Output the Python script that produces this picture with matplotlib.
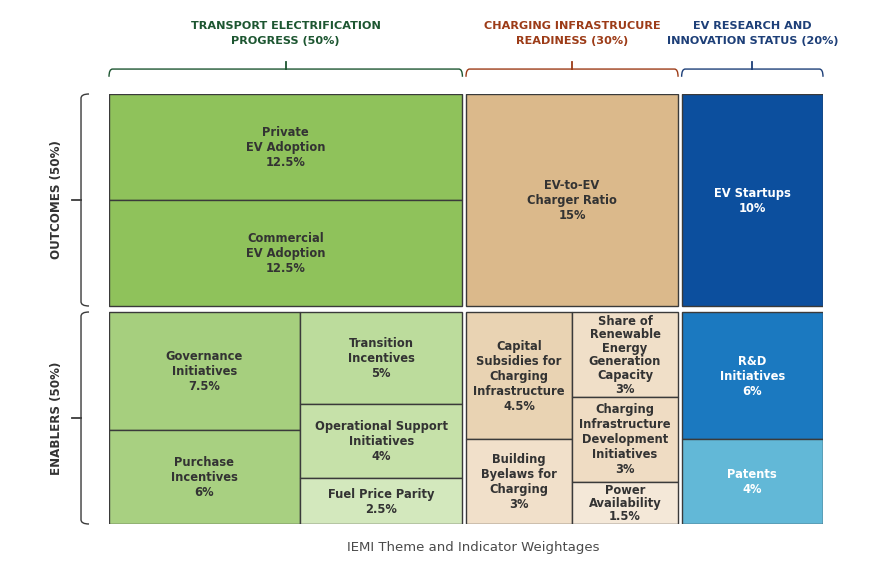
import matplotlib.pyplot as plt
from matplotlib.patches import Rectangle, PathPatch
from matplotlib.path import Path
from matplotlib.transforms import offset_copy
import numpy as np

plt.rcParams['font.family'] = ['DejaVu Sans']

# ---------------- data ----------------
themes = ["TRANSPORT ELECTRIFICATION\nPROGRESS (50%)",
          "CHARGING INFRASTRUCURE\nREADINESS (30%)",
          "EV RESEARCH AND\nINNOVATION STATUS (20%)"]
theme_weights = [50, 30, 20]

pillars = ["OUTCOMES (50%)", "ENABLERS (50%)"]
pillar_weights = [50, 50]

# each block = list of columns, each column = stacked indicators
transport_outcomes = [["Private\nEV Adoption", "Commercial\nEV Adoption"]]
transport_outcome_weights = [[12.5, 12.5]]
transport_enablers = [["Governance\nInitiatives", "Purchase\nIncentives"],
                      ["Transition\nIncentives", "Operational Support\nInitiatives", "Fuel Price Parity"]]
transport_enabler_weights = [[7.5, 6], [5, 4, 2.5]]

charging_outcomes = [["EV-to-EV\nCharger Ratio"]]
charging_outcome_weights = [[15]]
charging_enablers = [["Capital\nSubsidies for\nCharging\nInfrastructure", "Building\nByelaws for\nCharging"],
                     ["Share of\nRenewable\nEnergy\nGeneration\nCapacity",
                      "Charging\nInfrastructure\nDevelopment\nInitiatives",
                      "Power\nAvailability"]]
charging_enabler_weights = [[4.5, 3], [3, 3, 1.5]]

research_outcomes = [["EV Startups"]]
research_outcome_weights = [[10]]
research_enablers = [["R&D\nInitiatives", "Patents"]]
research_enabler_weights = [[6, 4]]

# ---------------- styles ----------------
theme_colors = ['#1d5631', '#9c3b17', '#1d3f78']
block_colors = {
    (0, 0): [['#8fc25b', '#8fc25b']],
    (0, 1): [['#a6cf7e', '#a8d081'], ['#bcdc9c', '#c6e1a9', '#d3e8bd']],
    (1, 0): [['#dbb98b']],
    (1, 1): [['#e9d3b3', '#f1e0ca'], ['#f0dfc8', '#efdcc3', '#f4e8d8']],
    (2, 0): [['#0c4f9e']],
    (2, 1): [['#1b79c0', '#62b8d7']],
}
text_dark = '#333333'
edge = '#3a3a3a'

blocks = {
    (0, 0): (transport_outcomes, transport_outcome_weights),
    (0, 1): (transport_enablers, transport_enabler_weights),
    (1, 0): (charging_outcomes, charging_outcome_weights),
    (1, 1): (charging_enablers, charging_enabler_weights),
    (2, 0): (research_outcomes, research_outcome_weights),
    (2, 1): (research_enablers, research_enabler_weights),
}

DPI = 100
fig = plt.figure(figsize=(8.69, 5.64), dpi=DPI)
ax = fig.add_axes([109/869, 1-524/564, 714/869, 430/564])
ax.set_xlim(0, sum(theme_weights))
ax.set_ylim(sum(pillar_weights), 0)
ax.axis('off')

gx, gy = 0.5, 1.4   # gaps between themes / pillars
px_per_y = 430 / sum(pillar_weights)
pitch = 15.0         # line pitch in pixels


def spans(weights, g):
    total = sum(weights)
    avail = total - g * (len(weights) - 1)
    out, a = [], 0
    for w in weights:
        b = a + avail * w / total
        out.append((a, b))
        a = b + g
    return out


def stacked_text(x, y, text, transform, fs, step, clip=None, **kw):
    # one Text per line so the pitch is exact in pixels
    lines = text.split("\n")
    n = len(lines)
    cap = 0.73 * fs * DPI / 72
    out = []
    for i, s in enumerate(lines):
        dy = ((n - 1) / 2 - i) * step - cap / 2
        tr = offset_copy(transform, fig=fig, x=0, y=dy, units='dots')
        t = ax.text(x, y, s, transform=tr, ha='center', va='baseline', fontsize=fs, **kw)
        if clip is not None:
            t.set_clip_on(True)
            t.set_clip_path(clip)
        out.append(t)
    return out


tspans = spans(theme_weights, gx)
pspans = spans(pillar_weights, gy)

fs = 8.3
for (ti, pi), (cols, wts) in blocks.items():
    x0, x1 = tspans[ti]
    y0, y1 = pspans[pi]
    col_tot = [sum(w) for w in wts]
    cx = x0
    for ci, (names, ws) in enumerate(zip(cols, wts)):
        cw = (x1 - x0) * col_tot[ci] / sum(col_tot)
        cy = y0
        for ri, (name, w) in enumerate(zip(names, ws)):
            ch = (y1 - y0) * w / col_tot[ci]
            fc = block_colors[(ti, pi)][ci][ri]
            rect = Rectangle((cx, cy), cw, ch, facecolor=fc, edgecolor=edge, lw=1.0)
            ax.add_patch(rect)
            label = f"{name}\n{w:g}%"
            nlines = label.count("\n") + 1
            room = ch * px_per_y - 3
            step = min(pitch, room / nlines)
            tc = 'white' if ti == 2 else text_dark
            stacked_text(cx + cw/2, cy + ch/2, label, ax.transData, fs, step, clip=rect,
                         fontweight='bold', color=tc)
            cy += ch
        cx += cw

# top brackets + theme titles
trans_top = ax.get_xaxis_transform()
yb, yl, yt = 1.040, 1.058, 1.074
rx = 0.5
for ti, name in enumerate(themes):
    x0, x1 = tspans[ti]
    xm = (x0 + x1) / 2
    verts = [(x0, yb), (x0, yl), (x0 + rx, yl), (x1 - rx, yl), (x1, yl), (x1, yb)]
    codes = [Path.MOVETO, Path.CURVE3, Path.CURVE3, Path.LINETO, Path.CURVE3, Path.CURVE3]
    ax.add_patch(PathPatch(Path(verts, codes), fill=False, edgecolor=theme_colors[ti],
                           lw=1.0, transform=trans_top, clip_on=False))
    ax.plot([xm, xm], [yl, yt], color=theme_colors[ti], lw=1.3, transform=trans_top, clip_on=False)
    stacked_text(xm, 1.143, name, trans_top, 8.1, pitch, fontweight='bold',
                 color=theme_colors[ti])

# left brackets + pillar labels
trans_left = ax.get_yaxis_transform()
xb, xl, xt = -0.028, -0.0392, -0.0518
ry2 = 1.0
for pi, name in enumerate(pillars):
    y0, y1 = pspans[pi]
    ym = (y0 + y1) / 2
    verts = [(xb, y0), (xl, y0), (xl, y0 + ry2), (xl, y1 - ry2), (xl, y1), (xb, y1)]
    codes = [Path.MOVETO, Path.CURVE3, Path.CURVE3, Path.LINETO, Path.CURVE3, Path.CURVE3]
    ax.add_patch(PathPatch(Path(verts, codes), fill=False, edgecolor=edge,
                           lw=1.0, transform=trans_left, clip_on=False))
    ax.plot([xl, xt], [ym, ym], color=edge, lw=1.3, transform=trans_left, clip_on=False)
    ax.text(-0.0735, ym, name, ha='center', va='center', rotation=90, fontsize=8.6,
            fontweight='bold', color=text_dark, transform=trans_left)

fig.text(0.545, 1 - 548/564, "IEMI Theme and Indicator Weightages", ha='center', va='center',
         fontsize=9.5, color='#4a4a4a')

fig.savefig('out.png', dpi=DPI)
